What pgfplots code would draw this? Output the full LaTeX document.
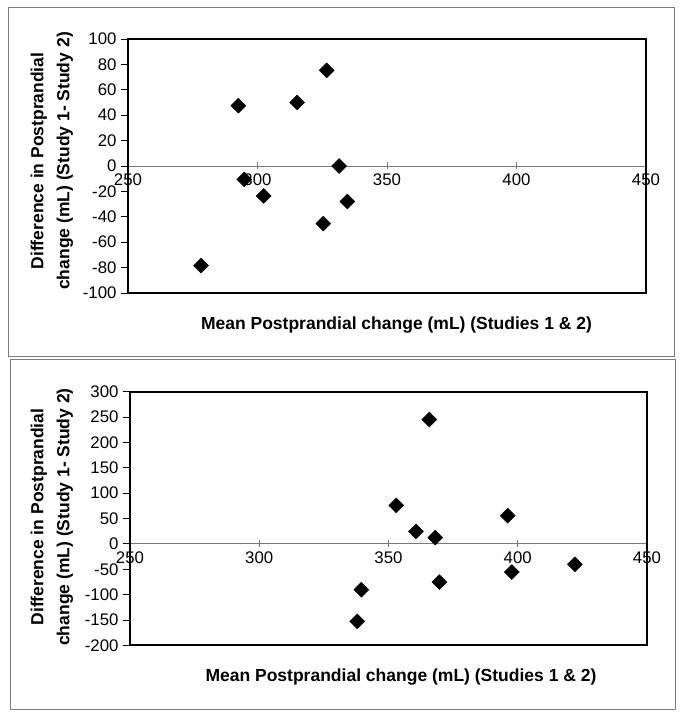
\documentclass[border=0pt]{standalone}
\usepackage{pgfplots}
\pgfplotsset{compat=1.18}
\usepackage{fontspec}
\setmainfont{Liberation Sans}
\definecolor{zline}{RGB}{120,120,120}
\definecolor{pframe}{RGB}{125,125,125}
\newcommand{\tfont}{\fontsize{16.8}{20}\selectfont}
\pgfplotstableread{
x y
278.2 -78.4
292.6 47.5
294.9 -10.5
302.4 -23.6
315.3 50.0
326.7 75.3
325.4 -45.4
331.5 0.0
334.7 -28.0
}\topdata
\pgfplotstableread{
x y
365.8 245.0
353.0 76.0
360.6 24.6
368.1 12.2
396.1 55.6
422.1 -40.4
397.7 -55.6
369.7 -75.3
339.5 -90.3
337.9 -152.9
}\botdata
\pgfplotsset{
  bland/.style={
    scale only axis,
    xmin=250, xmax=450,
    xtick={250,300,...,450},
    axis x line=middle,
    axis y line=left,
    axis line style={-},
    x axis line style={zline, line width=0.8pt},
    y axis line style={black, line width=1.6pt},
    hide obscured x ticks=false,
    hide obscured y ticks=false,
    x tick style={zline, line width=0.8pt},
    y tick style={black, line width=0.8pt},
    xtick align=center,
    ytick align=outside,
    major tick length=7pt,
    /pgf/number format/assume math mode=true,
    /pgf/number format/1000 sep={},
    xticklabel={\tfont\pgfmathprintnumber{\tick}},
    yticklabel={\tfont\pgfmathprintnumber{\tick}},
    xticklabel style={anchor=north, yshift=-1pt},
    yticklabel style={anchor=east, xshift=-1pt},
    clip=false,
  },
  dmd/.style={only marks, mark=square*, mark size=5.3pt, mark options={rotate=45, fill=black, draw=black}},
}
\begin{document}
\begin{tikzpicture}[x=1pt,y=1pt]
\path (0,0) rectangle (685,717);
% panel frames
\draw[pframe, line width=1pt] (8,360) rectangle (674,709);
\draw[pframe, line width=1pt] (10,7) rectangle (675,357);
% top axis
\begin{axis}[bland, at={(128pt,424pt)}, anchor=south west, width=518pt, height=254pt,
  ymin=-100, ymax=100, ytick={-100,-80,...,100}]
\addplot[dmd] table[x=x,y=y] {\topdata};
\draw[black, line width=1.6pt] (rel axis cs:0,0) rectangle (rel axis cs:1,1);
\end{axis}
\node[align=center, rotate=90, font=\bfseries\fontsize{17.5}{26}\selectfont] at (52,556) {Difference in Postprandial\\change (mL) (Study 1- Study 2)};
\node[font=\bfseries\fontsize{17.5}{20}\selectfont] at (396.5,392) {Mean Postprandial change (mL) (Studies 1 \& 2)};
% bottom axis
\begin{axis}[bland, at={(130pt,71.7pt)}, anchor=south west, width=517pt, height=253.6pt,
  ymin=-200, ymax=300, ytick={-200,-150,...,300}]
\addplot[dmd] table[x=x,y=y] {\botdata};
\draw[black, line width=1.6pt] (rel axis cs:0,0) rectangle (rel axis cs:1,1);
\end{axis}
\node[align=center, rotate=90, font=\bfseries\fontsize{17.5}{26}\selectfont] at (52,200) {Difference in Postprandial\\change (mL) (Study 1- Study 2)};
\node[font=\bfseries\fontsize{17.5}{20}\selectfont] at (401,40.3) {Mean Postprandial change (mL) (Studies 1 \& 2)};
\end{tikzpicture}
\end{document}
